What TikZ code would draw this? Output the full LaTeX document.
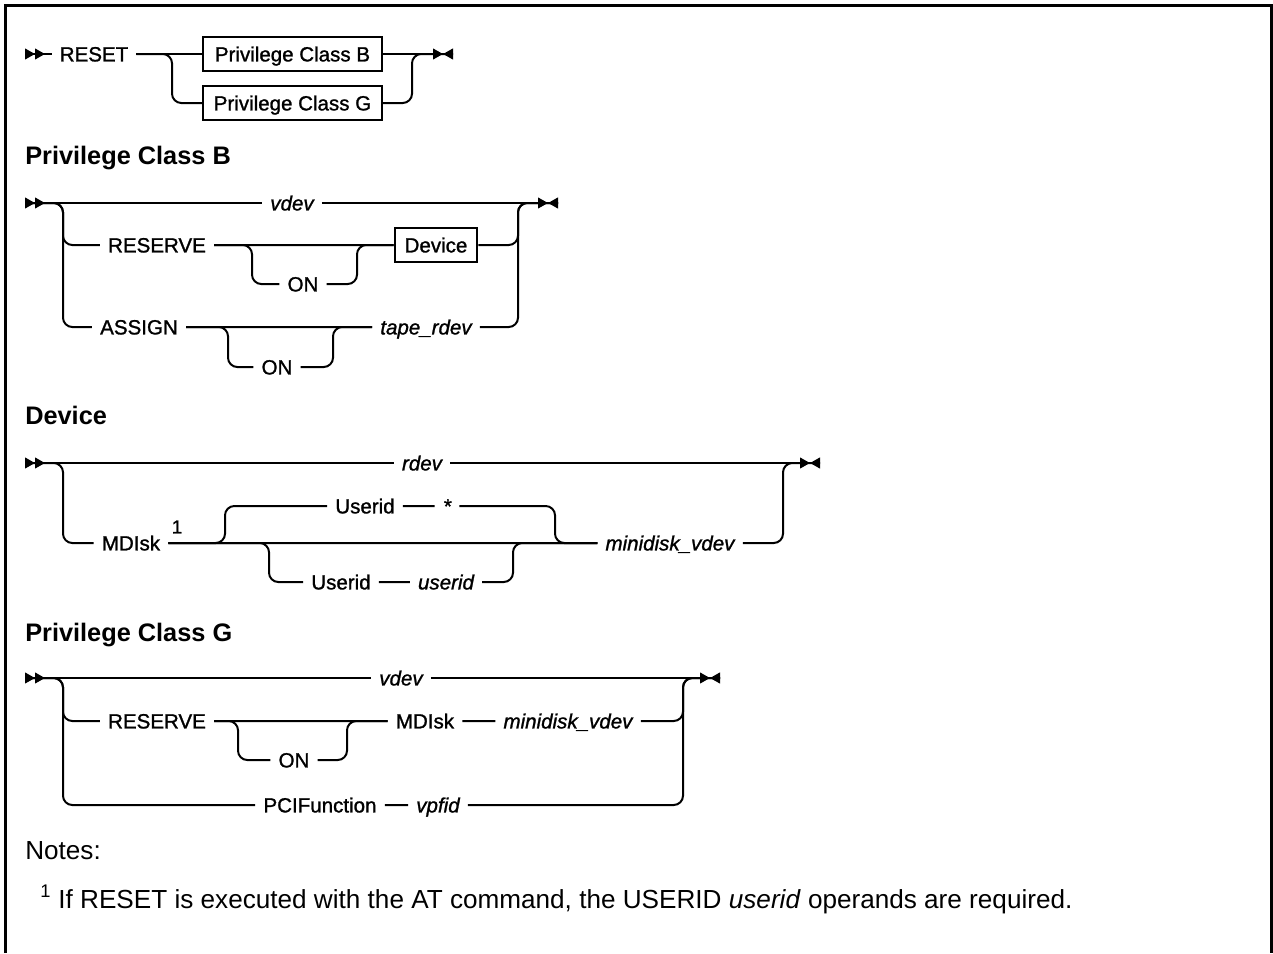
\documentclass[tikz,border=0pt]{standalone}
\usepackage{fontspec}
\setmainfont{Liberation Sans}
\newfontfamily\railfont{Liberation Sans}[FakeBold=1.2]
\usetikzlibrary{arrows.meta, positioning}

\begin{document}
\begin{tikzpicture}[
        x=0.75pt, y=-0.75pt,
        lbl/.style={font=\fontsize{15.4}{18}\selectfont\railfont, inner xsep=6pt, inner ysep=3pt, text height=14.3pt, text depth=3.2pt},
        kw/.style={lbl},
        var/.style={lbl, font=\fontsize{15.4}{18}\selectfont\railfont\itshape},
        box/.style={lbl, draw, line width=1.5pt, inner xsep=7.5pt, inner ysep=4pt},
        head/.style={anchor=base west, inner sep=0pt, font=\fontsize{19}{22}\selectfont\bfseries},
        note/.style={anchor=base west, inner sep=0pt, font=\fontsize{19.6}{23}\selectfont},
        rail/.style={line width=1.5pt, rounded corners=7pt},
        startm/.style={arrows={{Triangle[length=7.5pt,width=8pt,reversed,sep=0pt]Triangle[length=7.5pt,width=8pt,reversed,sep=0pt]}-}},
        endm/.style={arrows={-{Triangle[length=7.5pt,width=8pt,sep=0pt]Triangle[length=7.5pt,width=8pt,reversed,sep=0pt]}}}
    ]
        \useasboundingbox (0,0) rectangle (1273,953);
        \draw[line width=2.25pt] (5.5,953) -- (5.5,5.5) -- (1271.5,5.5) -- (1271.5,953);

        % RESET
        \coordinate (s1) at (25,54);
        \coordinate (f1) at (172,54);
        \coordinate (j1) at (412,54);
        \coordinate (e1) at (453,54);
        \node[kw] (reset) at (94,54) {RESET};
        \node[box, minimum width=134pt] (pcb) at (292.5,54) {Privilege Class B};
        \node[box, minimum width=134pt] (pcg) at (292.5,103) {Privilege Class G};
        \draw[rail, startm] (s1) -- (reset);
        \draw[rail] (reset) -- (pcb);
        \draw[rail, endm] (pcb) -- (e1);
        \draw[rail] (reset) -| (f1 |- pcg) -- (pcg);
        \draw[rail] (pcg) -| (j1) -- (e1);

        % Privilege Class B
        \node[head] (hb) at (25,164) {Privilege Class B};
        \coordinate (s2) at (25,203);
        \coordinate (f2) at (63,203);
        \coordinate (j2) at (518,203);
        \coordinate (e2) at (558,203);
        \node[var] (vdevb) at (292,203) {vdev};
        \node[kw] (rsv) at (157,245) {RESERVE};
        \node[kw] (onr) at (303,284) {ON};
        \node[box] (dev) at (436,245) {Device};
        \node[kw] (asg) at (139,327) {ASSIGN};
        \node[kw] (ona) at (277,367) {ON};
        \node[var] (tape) at (426,327) {tape\_rdev};
        \coordinate (ra) at (252,245);
        \coordinate (rb) at (357,245);
        \coordinate (aa) at (228,327);
        \coordinate (ab) at (333,327);
        \draw[rail, startm] (s2) -- (vdevb);
        \draw[rail, endm] (vdevb) -- (e2);
        \draw[rail] (s2) -| (f2 |- rsv) -- (rsv);
        \draw[rail] (s2) -| (f2 |- asg) -- (asg);
        \draw[rail] (rsv) -- (dev) -| (j2) -- (e2);
        \draw[rail] (rsv) -| (ra |- onr) -- (onr) -| (rb) -- (dev);
        \draw[rail] (asg) -- (tape) -| (j2) -- (e2);
        \draw[rail] (asg) -| (aa |- ona) -- (ona) -| (ab) -- (tape);

        % Device
        \node[head] (hd) at (25,424) {Device};
        \coordinate (s3) at (25,463);
        \coordinate (f3) at (63,463);
        \coordinate (j3) at (783,463);
        \coordinate (e3) at (820,463);
        \node[var] (rdev) at (422,463) {rdev};
        \node[kw] (mdk) at (131,543) {MDIsk};
        \node[inner sep=0pt, font=\fontsize{14}{16}\selectfont\railfont] (sup) at (177,527) {1};
        \node[kw] (uida) at (365,506) {Userid};
        \node[var] (star) at (447,506) {*};
        \node[kw] (uidb) at (341,582) {Userid};
        \node[var] (uval) at (446,582) {userid};
        \node[var] (mvd) at (670,543) {minidisk\_vdev};
        \coordinate (ua) at (225,543);
        \coordinate (ub) at (555,543);
        \coordinate (la) at (269,543);
        \coordinate (lb) at (513,543);
        \draw[rail, startm] (s3) -- (rdev);
        \draw[rail, endm] (rdev) -- (e3);
        \draw[rail] (s3) -| (f3 |- mdk) -- (mdk);
        \draw[rail] (mdk) -- (mvd) -| (j3) -- (e3);
        \draw[rail] (mdk) -| (ua |- uida) -- (uida) -- (star) -| (ub) -- (mvd);
        \draw[rail] (mdk) -| (la |- uidb) -- (uidb) -- (uval) -| (lb) -- (mvd);

        % Privilege Class G
        \node[head] (hg) at (25,641) {Privilege Class G};
        \coordinate (s4) at (25,678);
        \coordinate (f4) at (63,678);
        \coordinate (j4) at (683,678);
        \coordinate (e4) at (720,678);
        \node[var] (vdevg) at (401,678) {vdev};
        \node[kw] (rsvg) at (157,721) {RESERVE};
        \node[kw] (ong) at (294,760) {ON};
        \node[kw] (mdkg) at (425,721) {MDIsk};
        \node[var] (mvdg) at (568,721) {minidisk\_vdev};
        \node[kw] (pcif) at (320,805) {PCIFunction};
        \node[var] (vpf) at (438,805) {vpfid};
        \coordinate (ga) at (238,721);
        \coordinate (gb) at (347,721);
        \draw[rail, startm] (s4) -- (vdevg);
        \draw[rail, endm] (vdevg) -- (e4);
        \draw[rail] (s4) -| (f4 |- rsvg) -- (rsvg);
        \draw[rail] (s4) -| (f4 |- pcif) -- (pcif);
        \draw[rail] (rsvg) -- (mdkg) -- (mvdg) -| (j4) -- (e4);
        \draw[rail] (rsvg) -| (ga |- ong) -- (ong) -| (gb) -- (mdkg);
        \draw[rail] (pcif) -- (vpf) -| (j4) -- (e4);

        % notes
        \node[note] (notes) at (25,859) {Notes:};
        \node[note] (fn) at (40,908) {\textsuperscript{1} If RESET is executed with the AT command, the USERID \textit{userid} operands are required.};
    \end{tikzpicture}
\end{document}
